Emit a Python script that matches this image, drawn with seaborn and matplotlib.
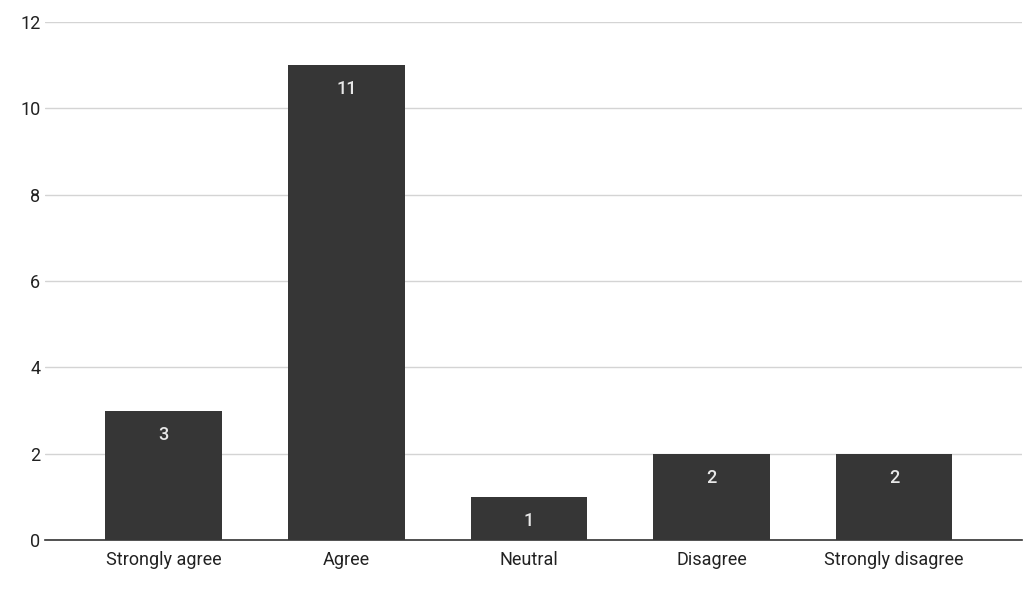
import matplotlib
matplotlib.use("Agg")
import matplotlib.pyplot as plt
import seaborn as sns
import pandas as pd

responses = ["Strongly agree", "Agree", "Neutral", "Disagree", "Strongly disagree"]
counts = [3, 11, 1, 2, 2]
y_ticks = [0, 2, 4, 6, 8, 10, 12]

df = pd.DataFrame({"Response": responses, "Count": counts})

sns.set_style("white")
plt.rcParams["font.family"] = ["Roboto", "DejaVu Sans"]

fig = plt.figure(figsize=(10.27, 6.05), dpi=100)
ax = fig.add_axes([0.044, 0.107, 0.951, 0.857])

sns.barplot(data=df, x="Response", y="Count", color="#363636",
            saturation=1, width=0.64, linewidth=0, ax=ax, zorder=3)

for i, v in enumerate(counts):
    ax.text(i, v - 0.35, str(v), ha="center", va="top",
            color="#e8e8e8", fontsize=13, fontweight="medium", zorder=4)

ax.set_xlim(-0.65, 4.7)
ax.set_ylim(0, 12)
ax.set_yticks(y_ticks)
ax.yaxis.grid(True, color="#d4d4d4", linewidth=1, zorder=0)
ax.set_xlabel("")
ax.set_ylabel("")
ax.tick_params(axis="both", length=0, labelsize=13, colors="#222222")
ax.tick_params(axis="x", pad=8)
for side in ["top", "right", "left"]:
    ax.spines[side].set_visible(False)
ax.spines["bottom"].set_color("#333333")
ax.spines["bottom"].set_linewidth(1.2)

fig.savefig("out.png", dpi=100)
